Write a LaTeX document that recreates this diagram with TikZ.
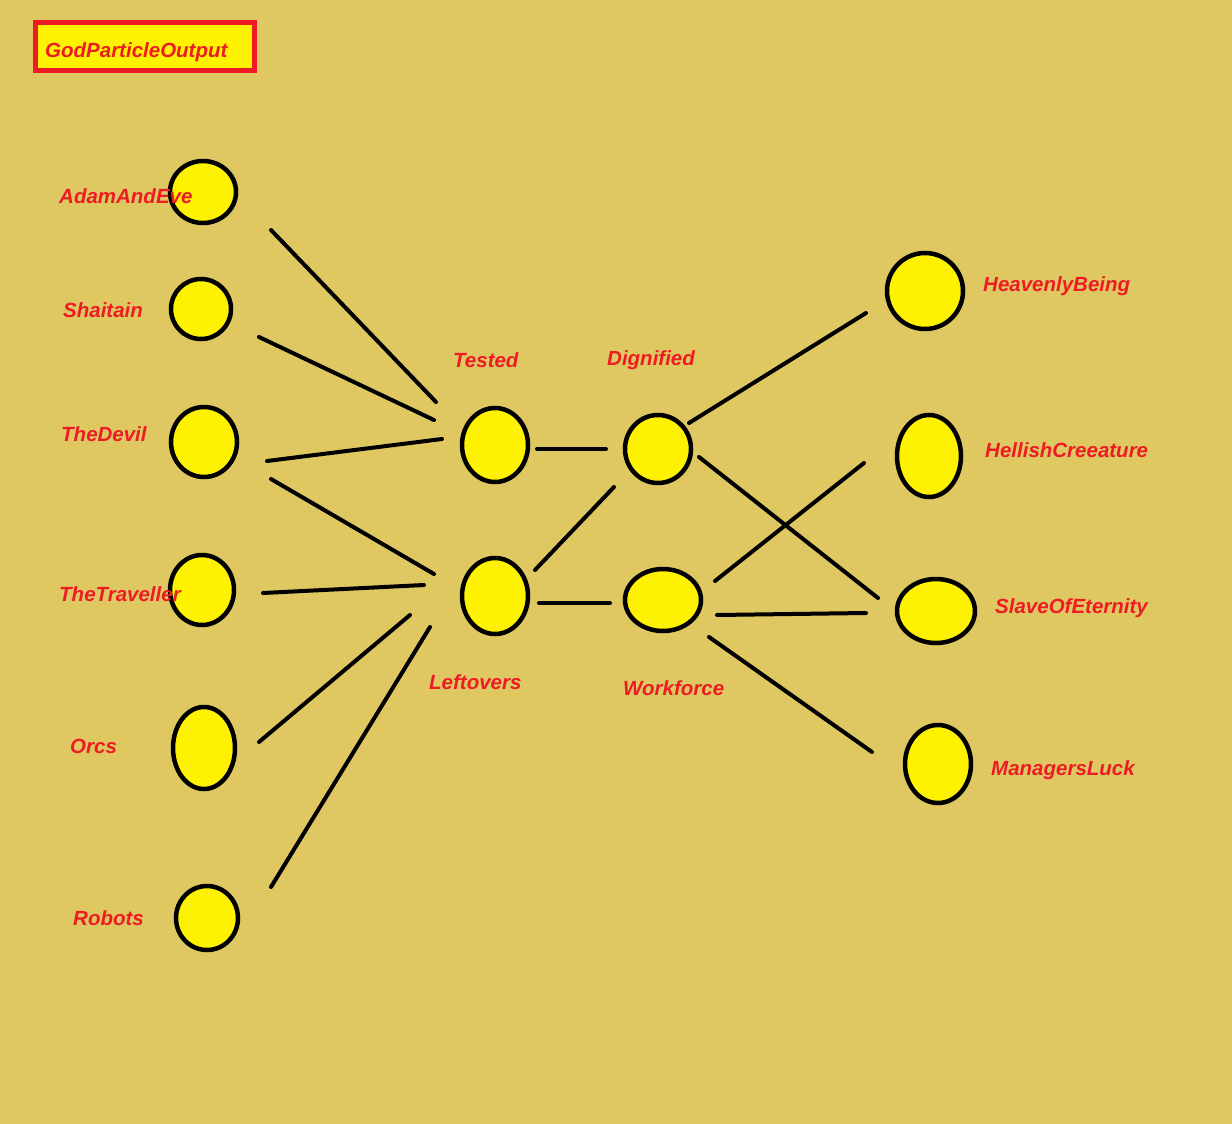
\documentclass[tikz,border=0pt]{standalone}
\usepackage{fontspec}
\setmainfont{Liberation Sans}
\usetikzlibrary{shapes.geometric}
\definecolor{bgc}{RGB}{223,200,98}
\definecolor{yel}{RGB}{255,242,0}
\definecolor{redc}{RGB}{237,28,36}
\tikzset{
  ell/.style={ellipse, draw=black, fill=yel, line width=4.5pt, inner sep=0pt},
  lbl/.style={text=redc, font=\fontsize{20.5}{24}\selectfont\bfseries\itshape, anchor=base west, inner sep=0pt},
  conn/.style={draw=black, line width=4pt, line cap=round}
}
\newcommand{\myell}[5]{\node[ell, minimum width=#4pt, minimum height=#5pt] (#1) at (#2,#3) {};}
\begin{document}
\begin{tikzpicture}[x=1pt,y=-1pt]
\fill[bgc] (0,0) rectangle (1232,1124);
\useasboundingbox (0,0) rectangle (1232,1124);
% title box
\node[draw=redc, line width=5pt, fill=yel, minimum width=219pt, minimum height=48pt, inner sep=0pt] (title) at (145,46.5) {};
\node[lbl] (titletext) at (45,58) {GodParticleOutput};
% left column
\myell{adam}{203}{192}{66}{62}
\myell{shai}{201}{309}{60}{60}
\myell{devil}{204}{442}{66}{70}
\myell{trav}{202}{590}{64}{70}
\myell{orcs}{204}{748}{62}{82}
\myell{robots}{207}{918}{62}{64}
% middle
\myell{tested}{495}{445}{66}{74}
\myell{left}{495}{596}{66}{76}
\myell{dign}{658}{449}{66}{68}
\myell{work}{663}{600}{76}{62}
% right
\myell{heav}{925}{291}{76}{76}
\myell{hell}{929}{456}{64}{82}
\myell{slave}{936}{611}{78}{64}
\myell{mgr}{938}{764}{66}{78}
% labels
\node[lbl] (ladam) at (59,203) {AdamAndEve};
\node[lbl] (lshai) at (63,317) {Shaitain};
\node[lbl] (ldevil) at (61,441) {TheDevil};
\node[lbl] (ltrav) at (59,601) {TheTraveller};
\node[lbl] (lorcs) at (70,753) {Orcs};
\node[lbl] (lrobots) at (73,925) {Robots};
\node[lbl] (ltested) at (453,367) {Tested};
\node[lbl] (ldign) at (607,365) {Dignified};
\node[lbl] (lleft) at (429,689) {Leftovers};
\node[lbl] (lwork) at (623,695) {Workforce};
\node[lbl] (lheav) at (983,291) {HeavenlyBeing};
\node[lbl] (lhell) at (985,457) {HellishCreeature};
\node[lbl] (lslave) at (995,613) {SlaveOfEternity};
\node[lbl] (lmgr) at (991,775) {ManagersLuck};
% connector end points
\coordinate (a1) at (271,230); \coordinate (a2) at (436,402);
\coordinate (b1) at (259,337); \coordinate (b2) at (434,420);
\coordinate (c1) at (267,461); \coordinate (c2) at (442,439);
\coordinate (d1) at (271,479); \coordinate (d2) at (434,574);
\coordinate (e1) at (263,593); \coordinate (e2) at (424,585);
\coordinate (f1) at (259,742); \coordinate (f2) at (410,615);
\coordinate (g1) at (271,887); \coordinate (g2) at (430,627);
\coordinate (h1) at (537,449); \coordinate (h2) at (606,449);
\coordinate (i1) at (535,570); \coordinate (i2) at (614,487);
\coordinate (j1) at (539,603); \coordinate (j2) at (610,603);
\coordinate (k1) at (689,423); \coordinate (k2) at (866,313);
\coordinate (l1) at (699,457); \coordinate (l2) at (878,598);
\coordinate (m1) at (715,581); \coordinate (m2) at (864,463);
\coordinate (n1) at (717,615); \coordinate (n2) at (866,613);
\coordinate (o1) at (709,637); \coordinate (o2) at (872,752);
\foreach \s in {a,b,c,d,e,f,g,h,i,j,k,l,m,n,o}{\draw[conn] (\s1) -- (\s2);}
\end{tikzpicture}
\end{document}
